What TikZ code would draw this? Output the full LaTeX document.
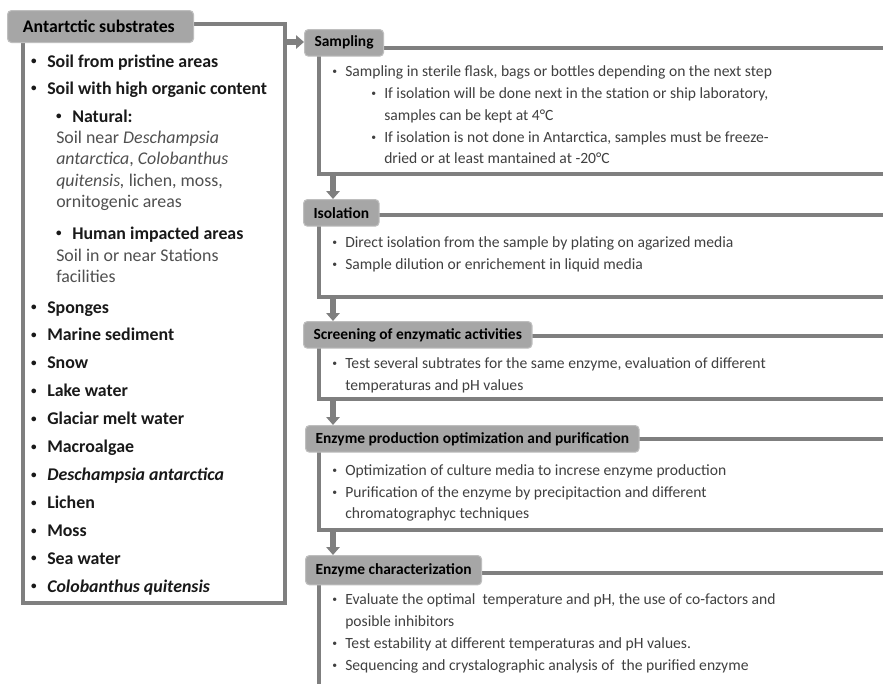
\documentclass[tikz,border=0pt]{standalone}
\usepackage{fontspec}
\setmainfont{Carlito}
\usetikzlibrary{calc,positioning,arrows.meta}

\definecolor{framegray}{RGB}{127,127,127}
\definecolor{tabgray}{RGB}{166,166,166}
\definecolor{tabedge}{RGB}{190,190,190}
\definecolor{txtgray}{RGB}{64,64,64}
\definecolor{subgray}{RGB}{80,80,80}

\newcommand{\bul}[1][5pt]{\llap{\raisebox{0.12em}{\scalebox{0.62}{\textbullet}}\hspace{#1}}}

\tikzset{
  frame/.style={draw=framegray, line width=2.3pt},
  flow/.style={draw=framegray, line width=4.5pt, -{Triangle[width=10pt,length=6pt]}},
  tab/.style={fill=tabgray, draw=tabedge, line width=0.8pt, rounded corners=3pt,
    anchor=north west, inner xsep=7.5pt, inner ysep=0pt, minimum height=20pt,
    text=black, font=\fontsize{11.6}{14}\selectfont\bfseries},
  subsitem/.style={anchor=base west, inner sep=0pt, text=black!90,
    font=\fontsize{13.4}{16}\selectfont\bfseries},
  subsnote/.style={anchor=base west, inner sep=0pt, text=subgray,
    font=\fontsize{13.4}{16}\selectfont},
  txt/.style={anchor=base west, inner sep=0pt, text=txtgray,
    font=\fontsize{11.7}{14}\selectfont},
}

\begin{document}
\begin{tikzpicture}[x=0.75pt,y=-0.75pt]
    \useasboundingbox[fill=white] (0,0) rectangle (883,683);

    % substrates
    \draw[frame] (23,24) rectangle (285,603);
    \node[tab, inner xsep=11pt, minimum height=24pt, minimum width=139.5pt, align=left,
          font=\fontsize{13.3}{16}\selectfont\bfseries] (subs) at (7,10) {Antartctic substrates\hspace{2.5pt}};
    \node[subsitem] (s1) at (47,67) {\bul[8pt]Soil from pristine areas};
    \node[subsitem] (s2) at (47,94) {\bul[8pt]Soil with high organic content};
    \node[subsitem] (nat) at (72,122) {\bul[8pt]Natural:};
    \node[subsnote] (nat1) at (56,143) {Soil near \textit{Deschampsia}};
    \node[subsnote] (nat2) at (56,164) {\textit{antarctica}, \textit{Colobanthus}};
    \node[subsnote] (nat3) at (56,186) {\textit{quitensis,} lichen, moss,};
    \node[subsnote] (nat4) at (56,207) {ornitogenic areas};
    \node[subsitem] (hum) at (72,239) {\bul[8pt]Human impacted areas};
    \node[subsnote] (hum1) at (56,261) {Soil in or near Stations};
    \node[subsnote] (hum2) at (56,282) {facilities};
    \foreach \txt [count=\i from 0] in {Sponges, Marine sediment, Snow, Lake water,
        Glaciar melt water, Macroalgae, {\textit{Deschampsia antarctica}}, Lichen,
        Moss, Sea water, {\textit{Colobanthus quitensis}}}
        \node[subsitem] (src\i) at (47,{313+27.9*\i}) {\bul[8pt]\txt};

    \coordinate (subs-out) at (285,42);

    % sampling
    \draw[frame] (890,48) -- (319,48) -- (319,174) -- (890,174);
    \node[tab] (samp) at (304,29) {Sampling};
    \node[txt] (samp1) at (345,76) {\bul[6pt]Sampling in sterile flask, bags or bottles depending on the next step};
    \node[txt] (samp2) at (384,98) {\bul[6pt]If isolation will be done next in the station or ship laboratory,};
    \node[txt] (samp3) at (384,120) {samples can be kept at 4°C};
    \node[txt] (samp4) at (384,142) {\bul[6pt]If isolation is not done in Antarctica, samples must be freeze-};
    \node[txt] (samp5) at (384,163) {dried or at least mantained at -20°C};
    \coordinate (samp-end) at (333,174);

    % isolation
    \draw[frame] (890,215) -- (319,215) -- (319,297) -- (890,297);
    \node[tab] (iso) at (303,199) {Isolation};
    \node[txt] (iso1) at (345,247) {\bul[6pt]Direct isolation from the sample by plating on agarized media};
    \node[txt] (iso2) at (345,269) {\bul[6pt]Sample dilution or enrichement in liquid media};
    \coordinate (iso-end) at (333,297);

    % screening
    \draw[frame] (890,336) -- (319,336) -- (319,399) -- (890,399);
    \node[tab] (scr) at (303,321) {Screening of enzymatic activities};
    \node[txt] (scr1) at (345,368) {\bul[6pt]Test several subtrates for the same enzyme, evaluation of different};
    \node[txt] (scr2) at (345,390) {temperaturas and pH values};
    \coordinate (scr-end) at (333,399);

    % production
    \draw[frame] (890,439) -- (319,439) -- (319,530) -- (890,530);
    \node[tab] (prod) at (305,425) {Enzyme production optimization and purification};
    \node[txt] (prod1) at (345,475) {\bul[6pt]Optimization of culture media to increse enzyme production};
    \node[txt] (prod2) at (345,497) {\bul[6pt]Purification of the enzyme by precipitaction and different};
    \node[txt] (prod3) at (345,518) {chromatographyc techniques};
    \coordinate (prod-end) at (333,530);

    % characterization
    \draw[frame] (890,573) -- (319,573) -- (319,690);
    \node[tab, minimum height=22pt] (char) at (305,555) {Enzyme characterization};
    \node[txt] (char1) at (345,604) {\bul[6pt]Evaluate the optimal\ \ temperature and pH, the use of co-factors and};
    \node[txt] (char2) at (345,626) {posible inhibitors};
    \node[txt] (char3) at (345,648) {\bul[6pt]Test estability at different temperaturas and pH values.};
    \node[txt] (char4) at (345,670) {\bul[6pt]Sequencing and crystalographic analysis of\ \ the purified enzyme};

    \draw[flow] (subs-out) -- (samp.west |- subs-out);
    \draw[flow] (samp-end) -- (samp-end |- iso.north);
    \draw[flow] (iso-end) -- (iso-end |- scr.north);
    \draw[flow] (scr-end) -- (scr-end |- prod.north);
    \draw[flow] (prod-end) -- (prod-end |- char.north);
\end{tikzpicture}
\end{document}
